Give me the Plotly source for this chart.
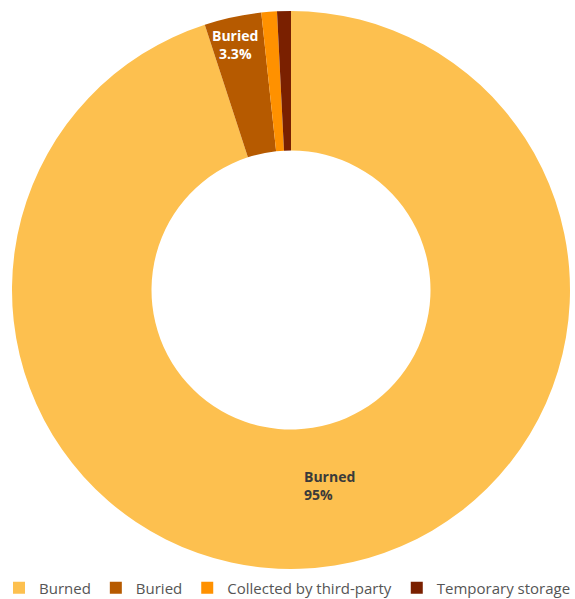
import math
import plotly.graph_objects as go

labels = ["Burned", "Buried", "Collected by third-party", "Temporary storage"]
values = [95, 3.3, 0.9, 0.8]
colors = ["#FDC04F", "#B65A00", "#FF9100", "#7A2000"]
label_text = {"Burned": "Burned<br>95%", "Buried": "Buried<br>3.3%"}

W, H = 575, 599
cx, cy, R = 291, 290, 279  # pie centre and outer radius in pixels

fig = go.Figure(go.Pie(
    labels=labels, values=values, hole=0.5, sort=False, direction="clockwise",
    marker=dict(colors=colors, line=dict(width=0)),
    textinfo="none", hoverinfo="label+percent",
    domain=dict(x=[(cx - R) / W, (cx + R) / W], y=[1 - (cy + R) / H, 1 - (cy - R) / H]),
))

# label placement computed from the data (angle of slice midpoint)
total = sum(values)
cum = 0
radii = {"Burned": 0.71, "Buried": 0.9}
xshifts = {"Burned": 8, "Buried": -4}
fonts = {"Burned": "#3a3a3a", "Buried": "#ffffff"}
aligns = {"Burned": "left", "Buried": "center"}
for lab, v in zip(labels, values):
    mid = (cum + v / 2) / total
    cum += v
    if lab not in label_text:
        continue
    th = 2 * math.pi * mid
    px = cx + radii[lab] * R * math.sin(th)
    py = cy - radii[lab] * R * math.cos(th)
    fig.add_annotation(
        x=px / W, y=1 - py / H, xref="paper", yref="paper",
        xanchor="center", yanchor="middle", xshift=xshifts[lab],
        text="<b>" + label_text[lab] + "</b>", showarrow=False, align=aligns[lab],
        font=dict(family="Open Sans, sans-serif", size=14, color=fonts[lab]),
    )

fig.update_layout(
    width=W, height=H, margin=dict(l=0, r=0, t=0, b=0, autoexpand=False),
    paper_bgcolor="white", plot_bgcolor="white",
    legend=dict(orientation="h", x=0.5, xanchor="center", y=1 - 588 / H, yanchor="middle",
                font=dict(family="Open Sans, sans-serif", size=15, color="#555555"),
                itemwidth=30, tracegroupgap=0, bgcolor="rgba(0,0,0,0)"),
)
fig.write_html("out.html")
